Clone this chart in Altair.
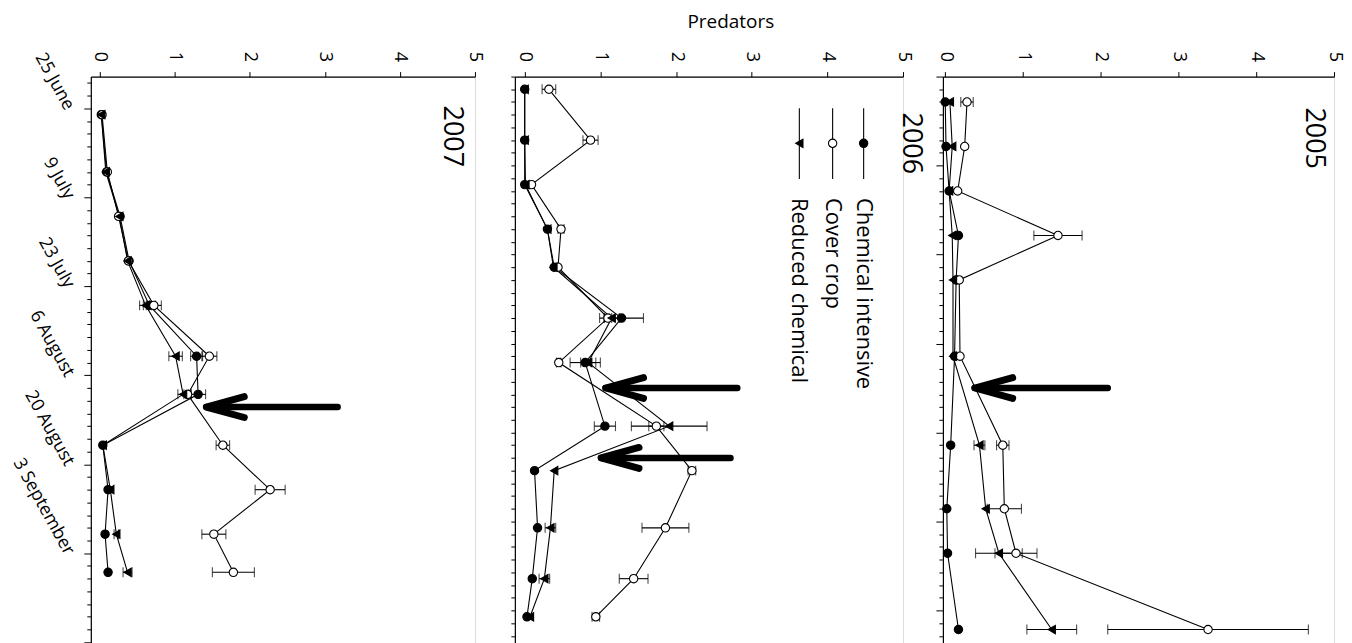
import json
import altair as alt
import pandas as pd

# ---------------- data ----------------
SERIES = ["Chemical intensive", "Cover crop", "Reduced chemical"]
SHAPES = ["circle", "circle", "triangle-left"]
FILLS = ["black", "white", "black"]
SIZES = [70, 70, 55]

DATE_LABELS = ["25 June", "9 July", "23 July", "6 August", "20 August", "3 September"]
REF_DATE = "2007-06-25"

# 2007
DATES_2007 = ["06-26", "07-05", "07-12", "07-19", "07-26", "08-03", "08-09", "08-17", "08-24", "08-31", "09-06"]
CHEM_2007 = [0.02, 0.09, 0.27, 0.39, 0.66, 1.29, 1.31, 0.04, 0.11, 0.07, 0.11]
COVER_2007 = [0.03, 0.10, 0.25, 0.38, 0.72, 1.46, 1.17, 1.64, 2.27, 1.52, 1.78]
REDUCED_2007 = [0.02, 0.08, 0.26, 0.37, 0.61, 1.01, 1.11, 0.04, 0.14, 0.22, 0.37]
CHEM_ERR_2007 = [0, 0, 0, 0, 0.08, 0.08, 0.10, 0, 0, 0, 0]
COVER_ERR_2007 = [0, 0, 0, 0, 0.10, 0.10, 0.05, 0.09, 0.20, 0.16, 0.28]
REDUCED_ERR_2007 = [0, 0, 0, 0, 0.08, 0.09, 0.07, 0, 0, 0.03, 0.06]

# 2006
DATES_2006 = ["06-22", "06-30", "07-07", "07-14", "07-20", "07-28", "08-04", "08-14", "08-21", "08-30", "09-07", "09-13"]
CHEM_2006 = [0.00, 0.00, 0.00, 0.30, 0.39, 1.28, 0.80, 1.06, 0.13, 0.17, 0.10, 0.03]
COVER_2006 = [0.32, 0.87, 0.09, 0.48, 0.44, 1.10, 0.45, 1.74, 2.21, 1.86, 1.44, 0.94]
REDUCED_2006 = [0.00, 0.00, 0.01, 0.30, 0.38, 1.15, 0.84, 1.91, 0.39, 0.34, 0.26, 0.07]
CHEM_ERR_2006 = [0, 0, 0, 0, 0, 0.29, 0.20, 0.14, 0, 0, 0, 0]
COVER_ERR_2006 = [0.09, 0.10, 0, 0.04, 0, 0.05, 0.03, 0.10, 0.05, 0.31, 0.19, 0.05]
REDUCED_ERR_2006 = [0, 0, 0, 0, 0, 0.10, 0.10, 0.50, 0, 0.07, 0.07, 0]

# 2005
DATES_2005 = ["06-24", "07-01", "07-08", "07-15", "07-22", "08-03", "08-17", "08-27", "09-03", "09-15"]
CHEM_2005 = [0.00, 0.01, 0.05, 0.17, 0.14, 0.12, 0.07, 0.02, 0.03, 0.17]
COVER_2005 = [0.28, 0.25, 0.16, 1.45, 0.18, 0.19, 0.74, 0.76, 0.91, 3.38]
REDUCED_2005 = [0.06, 0.09, 0.05, 0.09, 0.10, 0.10, 0.44, 0.52, 0.69, 1.37]
CHEM_ERR_2005 = [0, 0, 0, 0, 0, 0, 0, 0, 0, 0]
COVER_ERR_2005 = [0.08, 0, 0, 0.31, 0, 0, 0.08, 0.22, 0.27, 1.29]
REDUCED_ERR_2005 = [0, 0, 0, 0, 0, 0, 0.07, 0, 0.30, 0.32]

# annotation arrows: (year, date, tip value, tail value)
ARROW_YEARS = ["2007", "2006", "2006", "2005"]
ARROW_DATES = ["08-11", "08-08", "08-19", "08-08"]
ARROW_TIPS = [1.42, 1.07, 1.01, 0.38]
ARROW_TAILS = [3.17, 2.81, 2.72, 2.09]

YEAR_LABEL_X = {"2007": 4.70, "2006": 5.10, "2005": 4.74}
YEAR_LABEL_DAY = {"2007": 4.4, "2006": 5.5, "2005": 4.7}

LEGEND_X = [4.48, 4.07, 3.63]

DAY_MIN, DAY_MAX = -5, 86
X_MIN = {"2007": -0.12, "2006": -0.13, "2005": -0.03}


def to_day(md):
    return (pd.Timestamp("2007-" + md) - pd.Timestamp(REF_DATE)).days


def build(year, dates, vals, errs):
    rows = []
    for s, v, e in zip(SERIES, vals, errs):
        for d, val, er in zip(dates, v, e):
            rows.append({"year": year, "series": s, "day": to_day(d), "value": val,
                         "err": er, "lo": val - er, "hi": val + er})
    return rows


rows = []
rows += build("2007", DATES_2007, [CHEM_2007, COVER_2007, REDUCED_2007],
              [CHEM_ERR_2007, COVER_ERR_2007, REDUCED_ERR_2007])
rows += build("2006", DATES_2006, [CHEM_2006, COVER_2006, REDUCED_2006],
              [CHEM_ERR_2006, COVER_ERR_2006, REDUCED_ERR_2006])
rows += build("2005", DATES_2005, [CHEM_2005, COVER_2005, REDUCED_2005],
              [CHEM_ERR_2005, COVER_ERR_2005, REDUCED_ERR_2005])
df = pd.DataFrame(rows)

arrows = pd.DataFrame({"year": ARROW_YEARS, "day": [to_day(d) for d in ARROW_DATES],
                       "tip": ARROW_TIPS, "tail": ARROW_TAILS})

FONT = "Open Sans"
ARROW_HEAD = "M 2 -0.55 L 0 0 L 2 0.55"

shape_scale = alt.Scale(domain=SERIES, range=SHAPES)
fill_scale = alt.Scale(domain=SERIES, range=FILLS)
size_scale = alt.Scale(domain=SERIES, range=SIZES)

label_expr = ("(datum.value >= 0 && datum.value % 14 == 0 && datum.value / 14 < {n}) ? "
              "{arr}[datum.value / 14] : ''").format(n=len(DATE_LABELS), arr=json.dumps(DATE_LABELS))


def panel(year, width):
    d = df[df.year == year]
    xs = alt.Scale(domain=[X_MIN[year], 5], nice=False, zero=False)
    ys = alt.Scale(domain=[DAY_MIN, DAY_MAX], reverse=True, nice=False, zero=False)

    xaxis = alt.Axis(orient="top", values=[0, 1, 2, 3, 4, 5], tickSize=5, labelAngle=90,
                     labelAlign="right", labelBaseline="middle", labelPadding=10,
                     labelFontSize=18, labelFont=FONT, labelColor="black", title=None,
                     grid=False, domainColor="black", tickColor="black", domainWidth=1.2)
    if year == "2007":
        yaxis = alt.Axis(orient="left", values=list(range(-4, DAY_MAX + 1, 2)),
                         tickSize={"condition": {"test": "datum.value % 14 == 0", "value": 7}, "value": 4},
                         labelExpr=label_expr, labelAngle=61, labelAlign="right",
                         labelBaseline="middle", labelPadding=15,
                         labelFontSize=18, labelFont=FONT, labelColor="black",
                         labelOverlap=False, labelBound=False,
                         title=None, grid=False, domainColor="black", tickColor="black",
                         domainWidth=1.2)
    else:
        yaxis = alt.Axis(orient="left", values=list(range(-5, DAY_MAX + 1, 2)),
                         tickSize={"condition": {"test": "(datum.value + 5) % 14 == 0", "value": 7}, "value": 4}
                         if year == "2005" else 4,
                         labels=False, title=None, grid=False, domainColor="black",
                         tickColor="black", domainWidth=1.2)

    def X(field):
        return alt.X(field, type="quantitative", scale=xs, axis=xaxis)

    def Y(field):
        return alt.Y(field, type="quantitative", scale=ys, axis=yaxis)

    base = alt.Chart(d)

    lines = base.mark_line(color="black", strokeWidth=1.1).encode(
        x=X("value"), y=Y("day"), detail="series:N", order="day:Q")

    e = d[d.err > 0.025]
    err_rule = alt.Chart(e).mark_rule(color="black", strokeWidth=1.1).encode(
        x=X("lo"), x2="hi:Q", y=Y("day"))
    cap_lo = alt.Chart(e).mark_tick(color="black", orient="vertical", size=10, thickness=1.1).encode(
        x=X("lo"), y=Y("day"))
    cap_hi = alt.Chart(e).mark_tick(color="black", orient="vertical", size=10, thickness=1.1).encode(
        x=X("hi"), y=Y("day"))

    pts = base.mark_point(filled=True, stroke="black", strokeWidth=1.1, opacity=1).encode(
        x=X("value"), y=Y("day"),
        shape=alt.Shape("series:N", scale=shape_scale, legend=None),
        fill=alt.Fill("series:N", scale=fill_scale, legend=None),
        size=alt.Size("series:N", scale=size_scale, legend=None))

    a = arrows[arrows.year == year]
    shaft = alt.Chart(a).mark_rule(color="black", strokeWidth=6.5, strokeCap="round").encode(
        x=X("tip"), x2="tail:Q", y=Y("day"))
    head = alt.Chart(a).mark_point(shape=ARROW_HEAD, size=1444, filled=False, stroke="black",
                                   strokeWidth=7, strokeCap="round", strokeJoin="round",
                                   opacity=1).encode(x=X("tip"), y=Y("day"))

    ttl = pd.DataFrame({"label": [year], "x": [YEAR_LABEL_X[year]], "day": [YEAR_LABEL_DAY[year]]})
    title_txt = alt.Chart(ttl).mark_text(angle=90, fontSize=27, font=FONT, align="center",
                                         baseline="middle", color="black").encode(
        x=X("x"), y=Y("day"), text="label:N")

    layers = [lines, err_rule, cap_lo, cap_hi, pts, shaft, head, title_txt]

    if year == "2006":
        leg = pd.DataFrame({"series": SERIES, "lx": LEGEND_X,
                            "y0": [0.0] * 3, "y1": [11.1] * 3, "ym": [5.5] * 3, "yt": [14.1] * 3})
        leg_line = alt.Chart(leg).mark_rule(color="black", strokeWidth=1.1).encode(
            x=X("lx"), y=Y("y0"), y2="y1:Q")
        leg_pt = alt.Chart(leg).mark_point(filled=True, stroke="black", strokeWidth=1.1, opacity=1).encode(
            x=X("lx"), y=Y("ym"),
            shape=alt.Shape("series:N", scale=shape_scale, legend=None),
            fill=alt.Fill("series:N", scale=fill_scale, legend=None),
            size=alt.Size("series:N", scale=size_scale, legend=None))
        leg_txt = alt.Chart(leg).mark_text(angle=90, fontSize=22, font=FONT, align="left",
                                           baseline="middle", color="black").encode(
            x=X("lx"), y=Y("yt"), text="series:N")
        layers += [leg_line, leg_pt, leg_txt]

    height = (DAY_MAX - DAY_MIN) * 6.37
    return alt.layer(*layers).properties(width=width, height=height)


chart = alt.hconcat(
    panel("2007", 385), panel("2006", 389), panel("2005", 392),
    spacing=40, bounds="flush",
).properties(
    title=alt.TitleParams("Predators", fontSize=19, font=FONT, fontWeight="normal",
                          color="black", anchor="middle", offset=17, dx=55),
    padding={"top": 4, "left": 0, "right": 0, "bottom": 0},
).configure_view(strokeWidth=0).configure(font=FONT)

chart.save("out.html", embed_options={"renderer": "svg", "actions": False})
